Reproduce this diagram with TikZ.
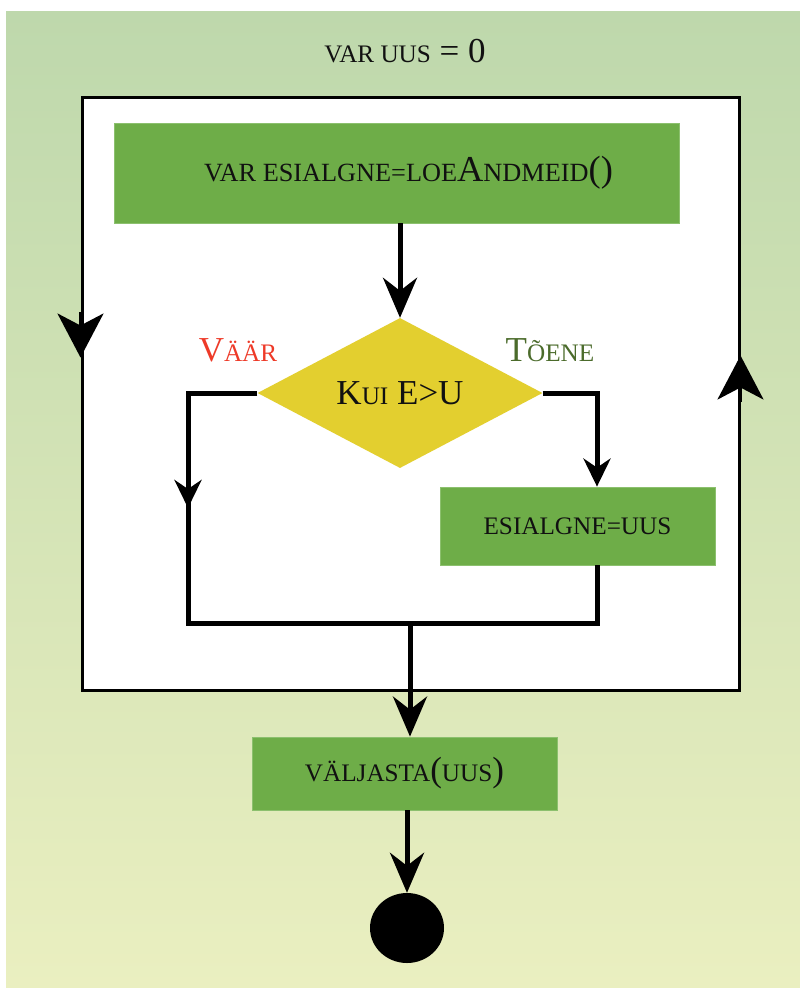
\documentclass[tikz,border=0pt]{standalone}
\usepackage{fontspec}
\setmainfont{Liberation Serif}
\usetikzlibrary{arrows.meta,shapes.geometric,calc}

% scaled capitals standing in for small caps
\makeatletter
\newcommand\smc[1]{{\fontsize{\fpeval{0.72*\f@size}}{0}\selectfont #1}}
\makeatother

\definecolor{bgtop}{RGB}{190,216,172}
\definecolor{bgbottom}{RGB}{234,239,192}
\definecolor{boxgreen}{RGB}{110,173,72}
\definecolor{boxedge}{RGB}{140,192,110}
\definecolor{decision}{RGB}{227,207,47}
\definecolor{falsered}{RGB}{238,58,40}
\definecolor{truegreen}{RGB}{75,107,43}
\definecolor{ink}{RGB}{17,17,17}

\begin{document}
\begin{tikzpicture}[x=1pt,y=-1pt,
  txt/.style={font=\fontsize{35}{40}\selectfont, text=ink},
  action/.style={txt, rectangle, fill=boxgreen, draw=boxedge, line width=0.8pt, inner sep=0pt},
  decide/.style={txt, diamond, fill=decision, inner sep=0pt, aspect=1.9},
  loopbox/.style={rectangle, fill=white, draw=black, line width=3pt, inner sep=0pt},
  flow/.style={draw=black, line width=5pt},
  tipsmall/.style={-{Stealth[length=28pt,width=27pt,inset=9pt]}},
  tipmid/.style={-{Stealth[length=40pt,width=34pt,inset=13pt]}},
  tipbig/.style={-{Stealth[length=44pt,width=46pt,inset=12pt]}},
  label/.style={font=\fontsize{35}{40}\selectfont}
]
% page and shaded backdrop
\fill[white] (0,0) rectangle (800,988);
\useasboundingbox (0,0) rectangle (800,988);
\shade[top color=bgtop, bottom color=bgbottom] (6,11) rectangle (800,987);

% heading
\node[txt, font=\fontsize{35}{39}\selectfont] (title) at (405,51) {\smc{VAR UUS} = 0};

% loop frame
\node[loopbox, minimum width=657pt, minimum height=593pt] (loop) at (410.5,393.5) {};
\draw[line width=3pt, tipbig] ([yshift=82pt]loop.west) -- ([yshift=36pt]loop.west);
\draw[line width=3pt, tipbig] ([yshift=-8pt]loop.east) -- ([yshift=38pt]loop.east);

% steps
\node[action, font=\fontsize{36.5}{40}\selectfont, minimum width=565pt, minimum height=100pt] (init) at (396.5,173)
  {\hspace*{24pt}\raisebox{-5pt}{\smc{VAR ESIALGNE=LOE}A\smc{NDMEID}()}};
\node[decide, minimum width=285pt, minimum height=150pt] (cond) at (400,393)
  {K\smc{UI} E>U};
\node[action, minimum width=275pt, minimum height=78pt] (assign) at (577.5,526)
  {\smc{ESIALGNE=UUS}};
\node[action, minimum width=305pt, minimum height=73pt] (out) at (404.5,773.5)
  {\smc{VÄLJASTA}(\smc{UUS})};
\node[ellipse, fill=black, minimum width=74pt, minimum height=70pt, inner sep=0pt] (stop) at (407,928) {};

% branch labels
\node[label, text=falsered] (nolabel) at (238,350) {V\smc{ÄÄR}};
\node[label, text=truegreen] (yeslabel) at (550,350) {T\smc{ÕENE}};

% routing points
\coordinate (lcorner) at (188,393);
\coordinate (lbottom) at (188,623);
\coordinate (rcorner) at (597,393);
\coordinate (rbottom) at (597,623);
\coordinate (merge) at (410,623);

% connectors
\draw[flow, tipmid] (init.south -| cond.north) -- (cond.north);
\draw[flow, tipsmall] (cond.west) -- (lcorner) -- ($(lcorner)!0.5!(lbottom)$);
\draw[flow, line join=miter] ($(lcorner)!0.45!(lbottom)$) -- (lbottom) -- (rbottom) -- (rbottom |- assign.south);
\draw[flow, tipsmall, line join=miter] (cond.east) -- (rcorner) -- (rcorner |- assign.north);
\draw[flow, tipmid] (merge) -- (merge |- out.north);
\draw[flow, tipmid] (out.south -| stop.north) -- (stop.north);
\end{tikzpicture}
\end{document}
